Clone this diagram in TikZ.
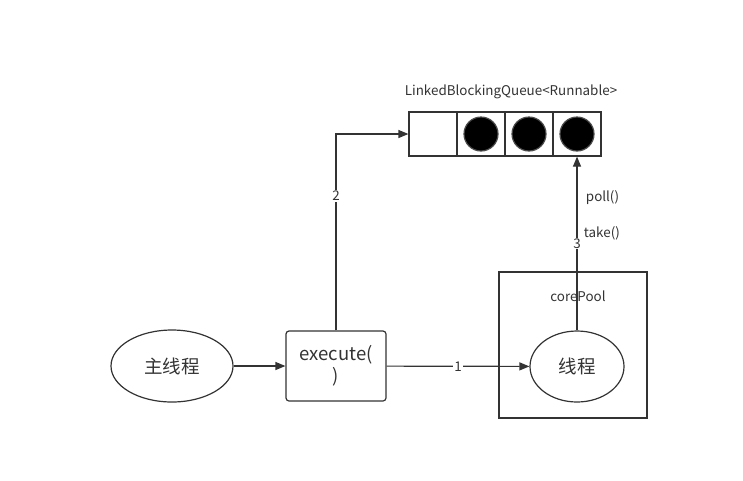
\documentclass[tikz,border=0pt]{standalone}
\usepackage{fontspec}
\setmainfont{Noto Sans CJK SC}
\usepackage{xcolor}
\usetikzlibrary{arrows.meta, positioning, calc, shapes.geometric}
\definecolor{linegray}{HTML}{333333}

\tikzset{
    cell/.style={draw, rectangle, minimum width=48pt, minimum height=44pt, inner sep=0pt},
    token/.style={circle, fill=black, draw=black!70, minimum size=34pt, inner sep=0pt},
    smalltext/.style={font=\fontsize{13.4}{15}\selectfont},
    numlabel/.style={fill=white, inner sep=1pt, font=\fontsize{13.4}{15}\selectfont}
}

\begin{document}
\begin{tikzpicture}[x=1pt, y=-1pt, color=linegray, line width=1.2pt,
    >={Triangle[length=10pt, width=8pt]}, font=\fontsize{18.5}{22}\selectfont]
    \useasboundingbox (0,0) rectangle (743,480);

    % cola de tareas
    \foreach \i in {1,...,4}
        \node[cell] (q\i) at ({385+48*\i},134) {};
    \foreach \i in {2,3,4}
        \node[token] (t\i) at (q\i) {};
    \node[smalltext] (qlabel) at (511,92) {LinkedBlockingQueue<Runnable>};

    \node[draw, ellipse, minimum width=122pt, minimum height=72pt] (main) at (172,366) {主线程};
    \node[draw, rounded corners=3pt, minimum width=100pt, minimum height=70pt, align=center] (exec) at (336,366) {execute(\\)};

    \node[draw, rectangle, minimum width=148pt, minimum height=146pt] (pool) at (573,345) {};
    \node[smalltext] (poollabel) at (578,296) {corePool};
    \node[draw, ellipse, minimum width=94pt, minimum height=71pt] (worker) at (577,366.5) {线程};

    \draw[->] (main) -- (exec);
    \draw[->] (exec) -- node[numlabel] {1} (worker);
    \draw[->] (exec.north) |- node[numlabel, pos=0.343] {2} (q1.west);
    \draw[->] (worker.north) -- node[numlabel] {3} (q4.south);

    \node[smalltext, anchor=west] (poll) at (582,198) {poll()};
    \node[smalltext, anchor=west] (take) at (580,233) {take()};
\end{tikzpicture}
\end{document}
